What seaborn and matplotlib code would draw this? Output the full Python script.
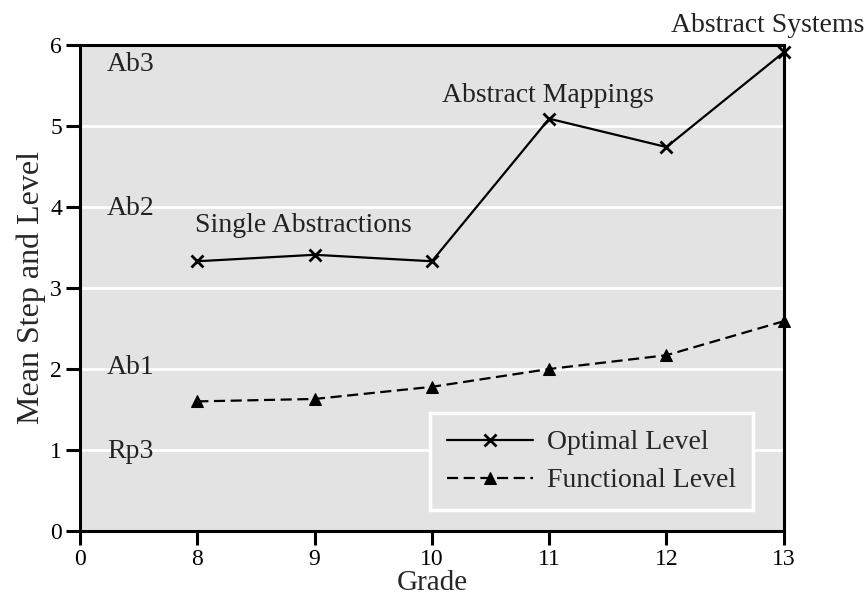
import matplotlib
matplotlib.use('Agg')

import matplotlib.pyplot as plt
import seaborn as sns

# grade categories (0 is just an axis start label)
grade_labels = ["0", "8", "9", "10", "11", "12", "13"]
grades = ["8", "9", "10", "11", "12", "13"]
optimal = [3.33, 3.41, 3.33, 5.09, 4.74, 5.91]
functional = [1.60, 1.63, 1.78, 2.00, 2.17, 2.59]

level_names = ["Ab3", "Ab2", "Ab1", "Rp3"]
level_y = [5.68, 3.90, 1.94, 0.90]

stage_names = ["Single Abstractions", "Abstract Mappings", "Abstract Systems"]
stage_x = [0.98, 3.09, 5.04]
stage_y = [3.69, 5.30, 6.16]

sns.set_style("white", {"axes.facecolor": "#e3e3e3"})
plt.rcParams['font.family'] = ['Liberation Serif', 'DejaVu Serif']

pos = [grade_labels.index(g) for g in grades]

fig = plt.figure(figsize=(8.67, 6.03), dpi=100)
ax = fig.add_axes([0.0923, 0.1194, 0.8117, 0.806])

sns.lineplot(x=pos, y=optimal, ax=ax, color="black", marker="x",
             markersize=8, markeredgewidth=2, markeredgecolor="black",
             linewidth=1.6, label="Optimal Level", clip_on=False)
sns.lineplot(x=pos, y=functional, ax=ax, color="black", marker="^",
             markersize=8, markeredgecolor="black", linewidth=1.6,
             linestyle=(0, (5, 2.5)), label="Functional Level", clip_on=False)

ax.set_xlim(0, 6)
ax.set_ylim(0, 6)
ax.set_xticks(range(len(grade_labels)))
ax.set_xticklabels(grade_labels)
ax.set_yticks(range(0, 7))
ax.yaxis.grid(True, color="white", linewidth=2)
ax.xaxis.grid(False)
ax.set_axisbelow(True)
for s in ax.spines.values():
    s.set_color("black")
    s.set_linewidth(2.2)
ax.tick_params(axis="both", direction="out", length=10, width=2.2, labelsize=17,
               colors="black", bottom=True, left=True, pad=3)
ax.set_xlabel("Grade", fontsize=21, labelpad=0)
ax.set_ylabel("Mean Step and Level", fontsize=23, labelpad=3)

for name, yv in zip(level_names, level_y):
    ax.text(0.23, yv, name, fontsize=20, va="baseline", ha="left", color="#222222")
for name, xv, yv in zip(stage_names, stage_x, stage_y):
    ax.text(xv, yv, name, fontsize=20, va="baseline", ha="left", color="#222222",
            clip_on=False)

leg = ax.legend(loc="lower right", bbox_to_anchor=(0.956, 0.043), borderaxespad=0,
                fontsize=20, frameon=True, fancybox=False, handlelength=3.1,
                handletextpad=0.5, borderpad=0.6, labelspacing=0.45)
leg.get_frame().set_facecolor("#e3e3e3")
leg.get_frame().set_edgecolor("white")
leg.get_frame().set_linewidth(2.5)
leg.get_frame().set_alpha(1)

fig.savefig("out.png", dpi=100)
